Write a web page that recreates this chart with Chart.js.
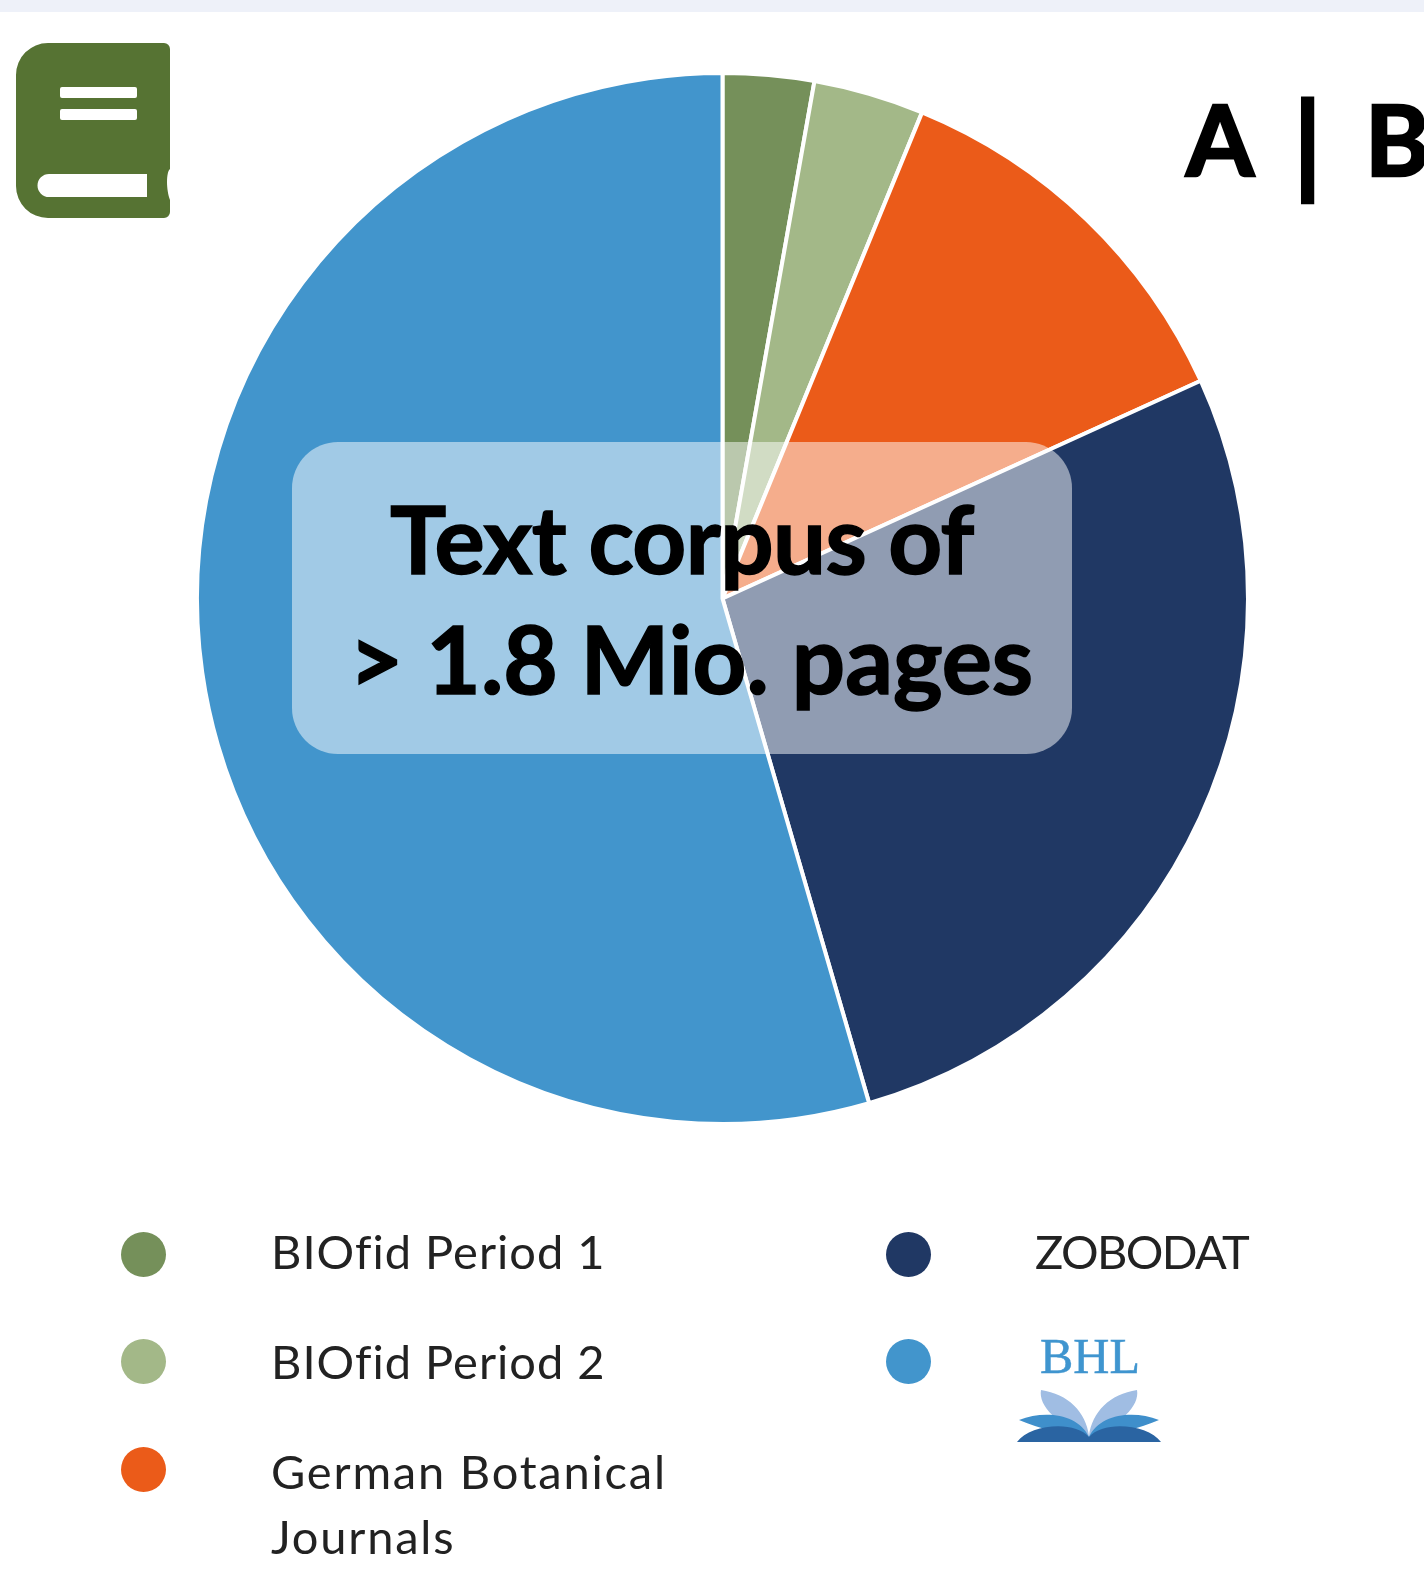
<!DOCTYPE html>
<html>
<head>
<meta charset="utf-8">
<script src="https://cdn.jsdelivr.net/npm/chart.js@4"></script>
<style>
  html, body { margin: 0; padding: 0; background: #fff; }
  #page { position: relative; width: 1424px; height: 1575px; overflow: hidden; font-family: Lato, sans-serif; color: #000; }
  #band { position: absolute; left: 0; top: 0; width: 1424px; height: 12px; background: #eef1f9; }
  #myCanvas { position: absolute; left: 0; top: 0; }
  #box { position: absolute; left: 292px; top: 442px; width: 780px; height: 312px; border-radius: 46px; background: rgba(255,255,255,0.5); }
  .big { position: absolute; font-weight: 700; font-size: 94px; line-height: 100px; white-space: nowrap; -webkit-text-stroke: 1.5px #000; }
  .head { position: absolute; font-weight: 700; font-size: 98px; line-height: 120px; white-space: nowrap; -webkit-text-stroke: 2.5px #000; }
  .dot { position: absolute; width: 45px; height: 45px; border-radius: 50%; }
  .leg { position: absolute; font-size: 47px; line-height: 50px; white-space: nowrap; color: #222; }
  svg { position: absolute; }
</style>
</head>
<body>
<div id="page">
  <div id="band"></div>
  <canvas id="myCanvas" width="1424" height="1575"></canvas>
  <div id="box"></div>
  <div class="big" style="left:390px;top:488px;letter-spacing:-0.6px">Text corpus of</div>
  <div class="big" style="left:349px;top:608px">&gt; 1.8 Mio. pages</div>
  <div class="head" style="left:1186px;top:78px">A</div>
  <div class="head" style="left:1293px;top:81px;font-size:112px">|</div>
  <div class="head" style="left:1365px;top:78px">B</div>

  <!-- book icon -->
  <svg style="left:0;top:0" width="200" height="240" viewBox="0 0 200 240">
    <path fill="#567333" d="M48 43H164a6 6 0 0 1 6 6V169C166 172 166 190 170 200V212a6 6 0 0 1-6 6H48a32 32 0 0 1-32-32V75a32 32 0 0 1 32-32Z"/>
    <rect x="60" y="87" width="77" height="11" rx="2" fill="#fff"/>
    <rect x="60" y="109" width="77" height="11" rx="2" fill="#fff"/>
    <path fill="#fff" d="M49 174H147V197H49a11.5 11.5 0 0 1 0-23Z"/>
  </svg>

  <!-- BHL logo -->
  <div style="position:absolute;left:1040px;top:1328px;font:50px/56px 'Liberation Serif',serif;color:#3f95cf;-webkit-text-stroke:0.5px #3f95cf">BHL</div>
  <svg style="left:1000px;top:1380px" width="180" height="70" viewBox="1000 1380 180 70">
    <path fill="#a0bde3" d="M1041 1390C1068 1394 1086 1412 1089 1436C1092 1412 1110 1394 1137 1390C1140 1406 1120 1425 1089 1437C1058 1425 1038 1406 1041 1390Z"/>
    <path fill="#3f8fcb" d="M1019 1420C1045 1410 1078 1414 1089 1437C1100 1414 1133 1410 1159 1420C1140 1428 1110 1436 1089 1438C1068 1436 1038 1428 1019 1420Z"/>
    <path fill="#2a64a2" d="M1017 1442C1030 1424 1075 1420 1089 1437C1103 1420 1148 1424 1161 1442Z"/>
  </svg>
</div>

<script>
const labels = ['BIOfid Period 1', 'BIOfid Period 2', 'German Botanical Journals', 'ZOBODAT', 'BHL'];
const values = [2.8, 3.4, 12.0, 27.3, 54.5];
const colors = ['#75905a', '#a3b888', '#eb5b19', '#203864', '#4295cc'];

// legend rows, the last one has the logo instead of text
const legendPos = [[121, 1232], [121, 1339], [121, 1447], [886, 1232], [886, 1339]];
const textPos = [[271, 1226], [271, 1336], [271, 1446], [1035, 1226]];
const textSpacing = [1, 1, 1.8, -1.6];

const page = document.getElementById('page');
labels.forEach((name, i) => {
  const dot = document.createElement('div');
  dot.className = 'dot';
  dot.style.left = legendPos[i][0] + 'px';
  dot.style.top = legendPos[i][1] + 'px';
  dot.style.background = colors[i];
  page.appendChild(dot);
  if (i < textPos.length) {
    const t = document.createElement('div');
    t.className = 'leg';
    t.style.left = textPos[i][0] + 'px';
    t.style.top = textPos[i][1] + 'px';
    t.style.letterSpacing = textSpacing[i] + 'px';
    t.innerHTML = i === 2 ? 'German Botanical<br><span style="display:block;margin-top:15px">Journals</span>' : name;
    page.appendChild(t);
  }
});

const ctx = document.getElementById('myCanvas').getContext('2d');
const myChart = new Chart(ctx, {
  type: 'pie',
  data: {
    labels: labels,
    datasets: [{
      data: values,
      backgroundColor: colors,
      borderColor: '#ffffff',
      borderWidth: 4
    }]
  },
  options: {
    responsive: false,
    animation: false,
    layout: { padding: { left: 195, top: 71, right: 174, bottom: 449 } },
    plugins: { legend: false, tooltip: { enabled: false } }
  }
});
</script>
</body>
</html>
